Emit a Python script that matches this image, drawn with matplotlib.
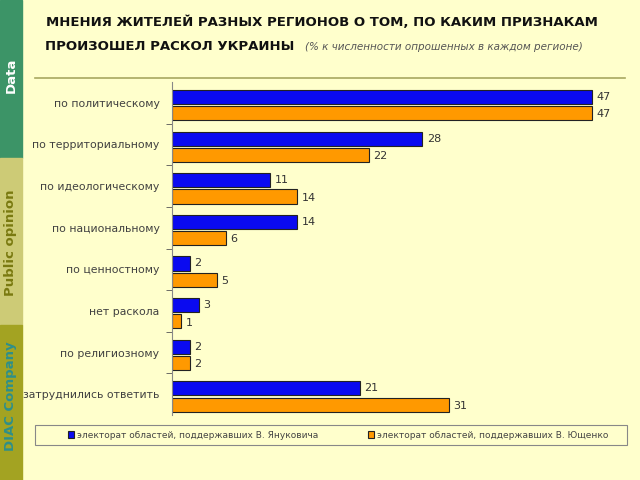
import matplotlib.pyplot as plt
from matplotlib.patches import Rectangle
import numpy as np

categories = ['по политическому', 'по территориальному', 'по идеологическому',
              'по национальному', 'по ценностному', 'нет раскола',
              'по религиозному', 'затруднились ответить']
yanukovych = [47, 28, 11, 14, 2, 3, 2, 21]
yushchenko = [47, 22, 14, 6, 5, 1, 2, 31]
series_names = ['электорат областей, поддержавших В. Януковича',
                'электорат областей, поддержавших В. Ющенко']

bg = '#FFFFCC'
fig = plt.figure(figsize=(6.4, 4.8), dpi=100, facecolor=bg)

# left sidebar
side = [(0, 158, 75, '#3C9467', 'Data', 'white'),
        (158, 325, 243, '#CDCB76', 'Public opinion', '#7A7A10'),
        (325, 480, 396, '#A3A322', 'DIAC Company', '#2E8F8A')]
for top, bot, mid, col, txt, tcol in side:
    fig.patches.append(Rectangle((0, 1 - bot / 480), 22 / 640, (bot - top) / 480,
                                 transform=fig.transFigure, color=col, zorder=0))
    fig.text(11 / 640, 1 - mid / 480, txt, rotation=90, color=tcol,
             fontsize=9.5, fontweight='bold', ha='center', va='center')

# title
fig.text(322 / 640, 1 - 22 / 480, 'МНЕНИЯ ЖИТЕЛЕЙ РАЗНЫХ РЕГИОНОВ О ТОМ, ПО КАКИМ ПРИЗНАКАМ',
         fontsize=9.5, fontweight='bold', ha='center', va='center', color='#111111')
fig.text(45 / 640, 1 - 46 / 480, 'ПРОИЗОШЕЛ РАСКОЛ УКРАИНЫ', fontsize=9.5,
         fontweight='bold', ha='left', va='center', color='#111111')
fig.text(305 / 640, 1 - 47 / 480, '(% к численности опрошенных в каждом регионе)',
         fontsize=7.5, style='italic', ha='left', va='center', color='#555555')
fig.lines.append(plt.Line2D([35 / 640, 625 / 640], [1 - 78 / 480, 1 - 78 / 480],
                            transform=fig.transFigure, color='#A8A860', lw=1.2))

ax = fig.add_axes([172 / 640, 1 - 415 / 480, 447 / 640, 333 / 480])
ax.set_facecolor(bg)
y = np.arange(len(categories))
h = 0.34
b1 = ax.barh(y - 0.14, yanukovych, height=h, color='#0A0AF0', edgecolor='#222222',
             linewidth=0.8, label=series_names[0])
b2 = ax.barh(y + 0.25, yushchenko, height=h, color='#FF9900', edgecolor='#222222',
             linewidth=0.8, label=series_names[1])
for yy, v in zip(y, yanukovych):
    ax.text(v + 0.5, yy - 0.14, str(v), va='center', ha='left', fontsize=8, color='#333333')
for yy, v in zip(y, yushchenko):
    ax.text(v + 0.5, yy + 0.28, str(v), va='center', ha='left', fontsize=8, color='#333333')

ax.set_xlim(0, 50)
ax.set_ylim(len(categories) - 0.5, -0.5)
ax.set_yticks(y)
ax.set_yticklabels(categories, fontsize=7.8, color='#404040')
ax.tick_params(axis='y', length=0, pad=9)
ax.set_yticks(np.arange(len(categories) - 1) + 0.5, minor=True)
ax.tick_params(axis='y', which='minor', length=4, color='#555555')
ax.set_xticks([])
for s in ['top', 'right', 'bottom']:
    ax.spines[s].set_visible(False)
ax.spines['left'].set_color('#888888')

# legend box drawn separately, legend content centred in it
fig.patches.append(Rectangle((35 / 640, 1 - 445 / 480), 592 / 640, 20 / 480,
                             transform=fig.transFigure, facecolor='none',
                             edgecolor='#888888', lw=0.8))
leg = fig.legend(handles=[b1, b2], loc='center', ncol=2,
                 bbox_to_anchor=(338 / 640, 1 - 435 / 480),
                 fontsize=6.5, frameon=False, handlelength=0.7,
                 handleheight=0.7, handletextpad=0.3, columnspacing=5.5)
for t in leg.get_texts():
    t.set_color('#444444')

fig.savefig('out.png', dpi=100, facecolor=bg)
